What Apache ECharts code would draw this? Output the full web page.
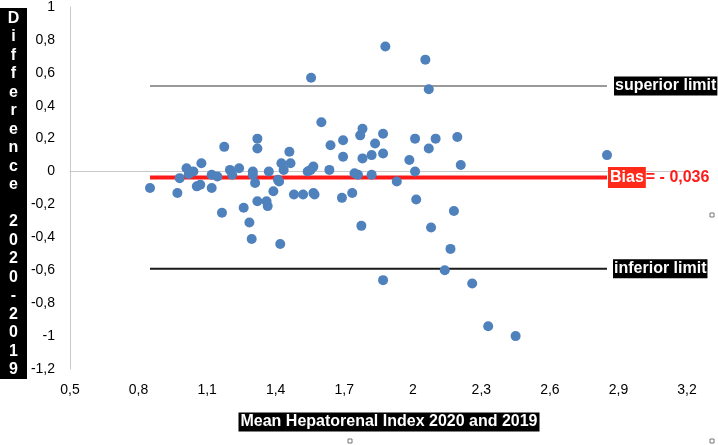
<!DOCTYPE html>
<html>
<head>
<meta charset="utf-8">
<style>
    html, body { margin: 0; padding: 0; background: #fff; }
    #main { width: 718px; height: 445px; }
</style>
<script src="https://cdn.jsdelivr.net/npm/echarts@6/dist/echarts.min.js"></script>
</head>
<body>
<div id="main"></div>
<script>
// mean of 2020 and 2019 hepatorenal index (x) / difference 2020 - 2019 (y)
var meanValues = [0.85, 0.97, 0.98, 1.01, 1.02, 1.04, 1.075, 1.055, 1.07, 1.12,
    1.145, 1.12, 1.175, 1.165, 1.2, 1.21, 1.24, 1.26, 1.3, 1.3,
    1.31, 1.32, 1.32, 1.32, 1.36, 1.365, 1.285, 1.295, 1.42, 1.37,
    1.41, 1.415, 1.39, 1.425, 1.435, 1.46, 1.465, 1.48, 1.52, 1.565,
    1.57, 1.54, 1.553, 1.565, 1.6, 1.635, 1.64, 1.695, 1.695, 1.69,
    1.735, 1.745, 1.76, 1.77, 1.78, 1.78, 1.82, 1.82, 1.835, 1.87,
    1.87, 2.01, 2.1, 2.195, 2.07, 1.985, 2.21, 2.01, 1.93, 2.015,
    2.18, 1.555, 1.88, 2.055, 2.07, 2.85, 1.775, 2.08, 2.165, 2.14,
    1.87, 2.26, 2.33, 2.45];
var diffValues = [-0.1, -0.13, -0.04, 0.02, -0.015, 0, 0.05, -0.09, -0.08, -0.02,
    -0.03, -0.1, 0.15, -0.25, 0.01, -0.02, 0.02, -0.22, 0, -0.02,
    -0.07, 0.2, 0.14, -0.18, -0.18, -0.21, -0.31, -0.41, -0.44, 0,
    -0.05, -0.06, -0.12, 0.05, 0.01, 0.12, 0.05, -0.14, -0.14, -0.13,
    -0.14, 0, 0.01, 0.03, 0.3, 0.01, 0.16, 0.19, 0.09, -0.16,
    -0.13, -0.01, -0.02, 0.22, 0.26, 0.08, 0.1, -0.02, 0.17, 0.23,
    0.11, 0.2, 0.2, 0.21, 0.14, 0.07, 0.04, 0, -0.06, -0.17,
    -0.24, 0.57, 0.76, 0.68, 0.5, 0.1, -0.33, -0.34, -0.47, -0.6,
    -0.66, -0.68, -0.94, -1];
var bias = -0.036;
var upperLimit = 0.52;
var lowerLimit = -0.59;
var xTicks = [0.5, 0.8, 1.1, 1.4, 1.7, 2, 2.3, 2.6, 2.9, 3.2];
var yTicks = [-1.2, -1, -0.8, -0.6, -0.4, -0.2, 0, 0.2, 0.4, 0.6, 0.8, 1];

var points = [];
for (var i = 0; i < meanValues.length; i++) {
    points.push([meanValues[i], diffValues[i]]);
}
var xStart = Math.min.apply(null, meanValues);
var xEnd = Math.max.apply(null, meanValues);

function comma(v) {
    return String(v).replace('.', ',');
}

function limitLine(y, color, width, label) {
    return {
        type: 'line',
        data: [[xStart, y], [xEnd, y]],
        symbol: 'none',
        silent: true,
        z: 1,
        lineStyle: { color: color, width: width },
        endLabel: label
    };
}

var boxLabel = {
    show: true,
    distance: 7,
    color: '#fff',
    backgroundColor: '#000',
    fontFamily: 'Liberation Sans',
    fontWeight: 'bold',
    fontSize: 16,
    padding: [2, 1, 1, 1]
};

var option = {
    animation: false,
    textStyle: { fontFamily: 'Liberation Sans' },
    grid: { left: 70, right: 31, top: 7, bottom: 76 },
    xAxis: {
        type: 'value',
        min: 0.5,
        max: 3.2,
        axisLine: { lineStyle: { color: '#c8c8c8' } },
        axisTick: { show: false },
        splitLine: { show: false },
        axisLabel: {
            customValues: xTicks,
            formatter: comma,
            color: '#000',
            fontSize: 14,
            margin: 14
        }
    },
    yAxis: {
        type: 'value',
        min: -1.2,
        max: 1,
        axisLine: { show: true, lineStyle: { color: '#c8c8c8' } },
        axisTick: { show: false },
        splitLine: { show: false },
        axisLabel: {
            customValues: yTicks,
            formatter: comma,
            color: '#000',
            fontSize: 14,
            margin: 15
        }
    },
    series: [
        limitLine(upperLimit, '#9a9a9a', 2, Object.assign({}, boxLabel, { formatter: 'superior limit' })),
        limitLine(lowerLimit, '#1a1a1a', 2, Object.assign({}, boxLabel, { formatter: 'inferior limit', distance: 6 })),
        limitLine(bias, '#ff1a1a', 4, {
            show: true,
            distance: 1,
            formatter: '{b|Bias}{v|= - ' + comma(bias).replace('-', '') + '}',
            rich: {
                b: {
                    color: '#fff',
                    backgroundColor: '#ff2a1a',
                    fontFamily: 'Liberation Sans',
                    fontWeight: 'bold',
                    fontSize: 16,
                    padding: [3, 2, 2, 2]
                },
                v: {
                    color: '#ff1a1a',
                    fontFamily: 'Liberation Sans',
                    fontWeight: 'bold',
                    fontSize: 16
                }
            }
        }),
        {
            type: 'scatter',
            data: points,
            symbolSize: 10,
            z: 3,
            itemStyle: { color: '#4f81bd', opacity: 1 }
        }
    ],
    graphic: [
        {
            type: 'rect',
            shape: { x: 0, y: 8, width: 27, height: 371 },
            style: { fill: '#000' }
        },
        {
            type: 'text',
            x: 13.5,
            y: 9,
            style: {
                text: 'Difference 2020-2019'.split('').join('\n'),
                fill: '#fff',
                font: 'bold 16px "Liberation Sans"',
                lineHeight: 18.5,
                align: 'center',
                verticalAlign: 'top'
            }
        },
        {
            type: 'text',
            x: 389,
            y: 422,
            style: {
                text: 'Mean Hepatorenal Index 2020 and 2019',
                fill: '#fff',
                backgroundColor: '#000',
                padding: [2, 2, 1, 2],
                font: 'bold 16px "Liberation Sans"',
                align: 'center',
                verticalAlign: 'middle'
            }
        },
        { type: 'rect', shape: { x: 710, y: 213, width: 4, height: 4 }, style: { fill: '#fff', stroke: '#777', lineWidth: 1 } },
        { type: 'rect', shape: { x: 348, y: 439, width: 4, height: 4 }, style: { fill: '#fff', stroke: '#777', lineWidth: 1 } },
        { type: 'rect', shape: { x: 710, y: 439, width: 4, height: 4 }, style: { fill: '#fff', stroke: '#777', lineWidth: 1 } }
    ]
};

var chart = echarts.init(document.getElementById('main'));
chart.setOption(option);
</script>
</body>
</html>
